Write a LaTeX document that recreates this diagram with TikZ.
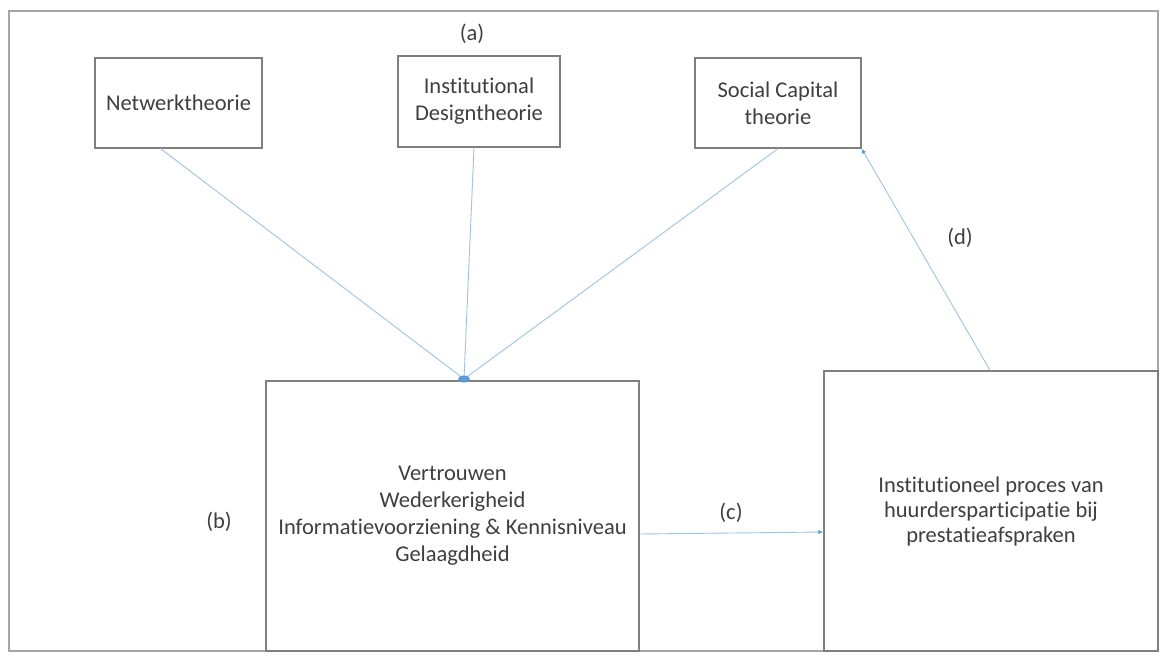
\documentclass[tikz,border=0pt]{standalone}
\usepackage{fontspec}
\setmainfont{Carlito}[Ligatures=NoCommon]
\usetikzlibrary{positioning,arrows.meta}
\definecolor{frame}{HTML}{A6A6A6}
\definecolor{boxline}{HTML}{7F7F7F}
\definecolor{link}{HTML}{9DC3E6}
\definecolor{linkdark}{HTML}{5B9BD5}
\definecolor{ink}{HTML}{3F3F3F}

\begin{document}
\begin{tikzpicture}[x=1pt,y=-1pt,font=\fontsize{22.5}{27}\selectfont,text=ink,
  theory/.style={draw=boxline,line width=1.2pt,minimum height=90pt,align=center,inner sep=0pt,fill=white},
  bigbox/.style={draw=boxline,line width=1.4pt,align=center,inner sep=0pt,fill=white},
  tag/.style={inner sep=1pt},
  link/.style={draw=link,line width=0.9pt},
  arr/.style={link,-{Latex[length=5pt,width=4.5pt,color=linkdark]}}]
  \useasboundingbox (0,0) rectangle (1173,661);
  \draw[frame,line width=1.2pt] (9,11) rectangle (1158,651);
  \node[theory,minimum width=167pt] (net) at (178.5,103) {Netwerktheorie};
  \node[theory,minimum width=162pt,minimum height=91pt] (inst) at (479,101.5) {Institutional\\Designtheorie};
  \node[theory,minimum width=166pt] (soc) at (778,103) {Social Capital\\theorie};
  \node[bigbox,minimum width=373pt,minimum height=270pt] (trust) at (452.5,516)
    {Vertrouwen\\Wederkerigheid\\Informatievoorziening \& Kennisniveau\\Gelaagdheid};
  \node[bigbox,minimum width=334pt,minimum height=280pt,font=\fontsize{22.5}{25}\selectfont] (proc) at (991,511)
    {Institutioneel proces van\\huurdersparticipatie bij\\prestatieafspraken};
  \coordinate (hub) at (464,379);
  \draw[link] ([xshift=-18pt]net.south) -- (hub);
  \draw[link] ([xshift=-5pt]inst.south) -- (hub);
  \draw[link] (soc.south) -- (hub);
  \fill[linkdark] (hub) ellipse (6pt and 3.5pt);
  \draw[arr] ([yshift=-18pt]trust.east) -- ([yshift=-21pt]proc.west);
  \draw[arr] ([xshift=-1pt]proc.north) -- (soc.south east);
  \node[tag] (la) at (472,34) {(a)};
  \node[tag] (lb) at (219,522) {(b)};
  \node[tag] (lc) at (731,513) {(c)};
  \node[tag] (ld) at (960,238) {(d)};
\end{tikzpicture}
\end{document}
